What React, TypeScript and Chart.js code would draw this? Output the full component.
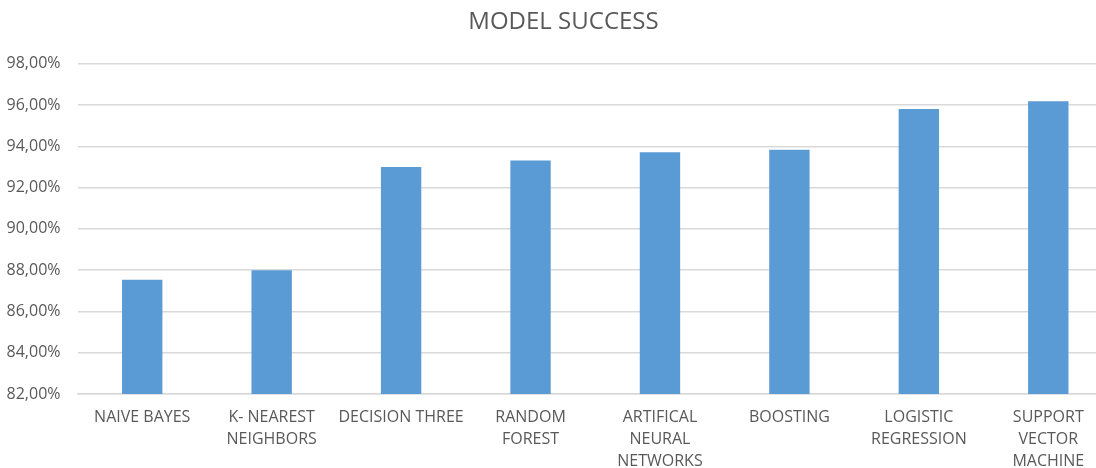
import React, { useEffect, useRef } from "react";
import { Chart, registerables } from "chart.js";

Chart.register(...registerables);

const chartTitle = "MODEL SUCCESS";
const categories: string[][] = [
  ["NAIVE BAYES"],
  ["K- NEAREST", "NEIGHBORS"],
  ["DECISION THREE"],
  ["RANDOM", "FOREST"],
  ["ARTIFICAL", "NEURAL", "NETWORKS"],
  ["BOOSTING"],
  ["LOGISTIC", "REGRESSION"],
  ["SUPPORT", "VECTOR", "MACHINE"],
];
const successValues: number[] = [87.53, 88.0, 93.0, 93.32, 93.71, 93.84, 95.81, 96.19];
const yMin = 82;
const yMax = 98;
const yStep = 2;

const FONT = "'Open Sans', sans-serif";
const TEXT = "#595959";
const GRID = "#d9d9d9";
const BAR = "#5b9bd5";

export default function App() {
  const ref = useRef<HTMLCanvasElement | null>(null);

  useEffect(() => {
    if (!ref.current) return;
    const chart = new Chart(ref.current, {
      type: "bar",
      data: {
        labels: categories,
        datasets: [
          {
            label: "Success",
            data: successValues,
            backgroundColor: BAR,
            borderWidth: 0,
            barPercentage: 0.312,
            categoryPercentage: 1,
          },
        ],
      },
      options: {
        responsive: false,
        animation: false,
        layout: { padding: 0 },
        plugins: {
          legend: { display: false },
          tooltip: { enabled: false },
          title: {
            display: true,
            text: chartTitle,
            color: TEXT,
            font: { family: FONT, size: 24, weight: "normal", lineHeight: 1.2 },
            padding: { top: 8, bottom: 27 },
          },
        },
        scales: {
          x: {
            grid: { display: false, drawTicks: false },
            border: { display: true, color: GRID, width: 1.5 },
            ticks: {
              color: TEXT,
              font: { family: FONT, size: 16, lineHeight: 1.375 },
              padding: 12,
              maxRotation: 0,
              autoSkip: false,
            },
            afterFit: (s: any) => {
              s.height = 74;
            },
          },
          y: {
            min: yMin,
            max: yMax,
            grid: { color: GRID, lineWidth: 1.5, drawTicks: false },
            border: { display: false },
            ticks: {
              stepSize: yStep,
              color: TEXT,
              font: { family: FONT, size: 16 },
              padding: 17,
              callback: (v: any) => Number(v).toFixed(2).replace(".", ",") + "%",
            },
            afterFit: (s: any) => {
              s.width = 77.5;
            },
          },
          yRight: {
            position: "right",
            display: true,
            grid: { display: false, drawOnChartArea: false, drawTicks: false },
            border: { display: false },
            ticks: { display: false },
            afterFit: (s: any) => {
              s.width = 14;
            },
          },
        },
      },
    });
    return () => chart.destroy();
  }, []);

  return (
    <div
      style={{
        position: "fixed",
        left: 0,
        top: 0,
        width: 1096,
        height: 468,
        overflow: "hidden",
        background: "#fff",
      }}
    >
      <canvas ref={ref} width={1127} height={468} style={{ display: "block" }} />
    </div>
  );
}
